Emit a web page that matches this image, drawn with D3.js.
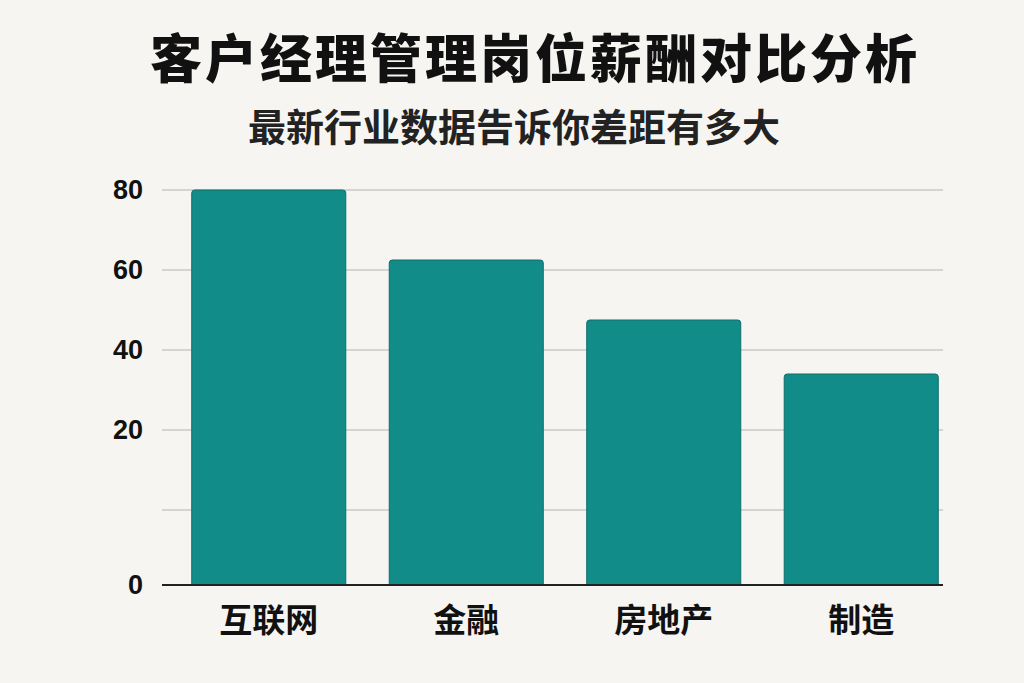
<!DOCTYPE html><html><head><meta charset="utf-8">
<script src="https://cdn.jsdelivr.net/npm/d3@7"></script>
<style>body{margin:0;background:#f6f5f1}svg{display:block}</style></head><body>
<svg id="c" width="1024" height="683"></svg>
<script>
const categories=["互联网","金融","房地产","制造"];
const values=[80,62.5,47.5,34];
const tickValues=[-18.75,0,20,40,60,80];
const tickLabels=["0","","20","40","60","80"];
const title="客户经理管理岗位薪酬对比分析";
const subtitle="最新行业数据告诉你差距有多大";

const svg=d3.select("#c");
const font="'Noto Sans CJK SC','Noto Sans',sans-serif";
svg.append("rect").attr("width",1024).attr("height",683).attr("fill","#f6f5f1");
const y=d3.scaleLinear().domain([-18.75,80]).range([585,190]);
const x=d3.scaleBand().domain(categories).range([172,958]).paddingInner(0.22).paddingOuter(0.1);
const g=svg.append("g");
g.selectAll("line.grid").data(tickValues.slice(1)).join("line")
 .attr("x1",162).attr("x2",943).attr("y1",d=>y(d)).attr("y2",d=>y(d))
 .attr("stroke","#c8c8c4").attr("stroke-width",1.5);
g.selectAll("path.bar").data(values).join("path")
 .attr("d",(d,i)=>{const x0=x(categories[i]),w=x.bandwidth(),t=y(d),b=y(-18.75),r=3;
   return `M${x0},${b}V${t+r}Q${x0},${t} ${x0+r},${t}H${x0+w-r}Q${x0+w},${t} ${x0+w},${t+r}V${b}Z`;})
 .attr("fill","#128c89").attr("stroke","#0d6f6c").attr("stroke-width",1);
g.append("line").attr("x1",162).attr("x2",943).attr("y1",585).attr("y2",585).attr("stroke","#222").attr("stroke-width",2);
g.selectAll("text.tick").data(tickValues).join("text")
 .attr("x",143).attr("y",d=>y(d)).attr("dy","0.35em").attr("text-anchor","end")
 .attr("font-family","'Liberation Sans',Arial,sans-serif").attr("font-size",27).attr("font-weight",700).attr("fill","#111")
 .text((d,i)=>tickLabels[i]);
g.selectAll("text.cat").data(categories).join("text")
 .attr("x",d=>x(d)+x.bandwidth()/2).attr("y",620).attr("dy","0.35em").attr("text-anchor","middle")
 .attr("font-family",font).attr("font-size",33).attr("font-weight",700).attr("fill","#111").text(d=>d);
svg.append("text").attr("x",535).attr("y",60).attr("dy","0.35em").attr("text-anchor","middle")
 .attr("font-family",font).attr("font-size",52).attr("letter-spacing",3).attr("font-weight",900).attr("fill","#111").text(title);
svg.append("text").attr("x",514).attr("y",128).attr("dy","0.35em").attr("text-anchor","middle")
 .attr("font-family",font).attr("font-size",38).attr("font-weight",700).attr("fill","#222").text(subtitle);
</script></body></html>
